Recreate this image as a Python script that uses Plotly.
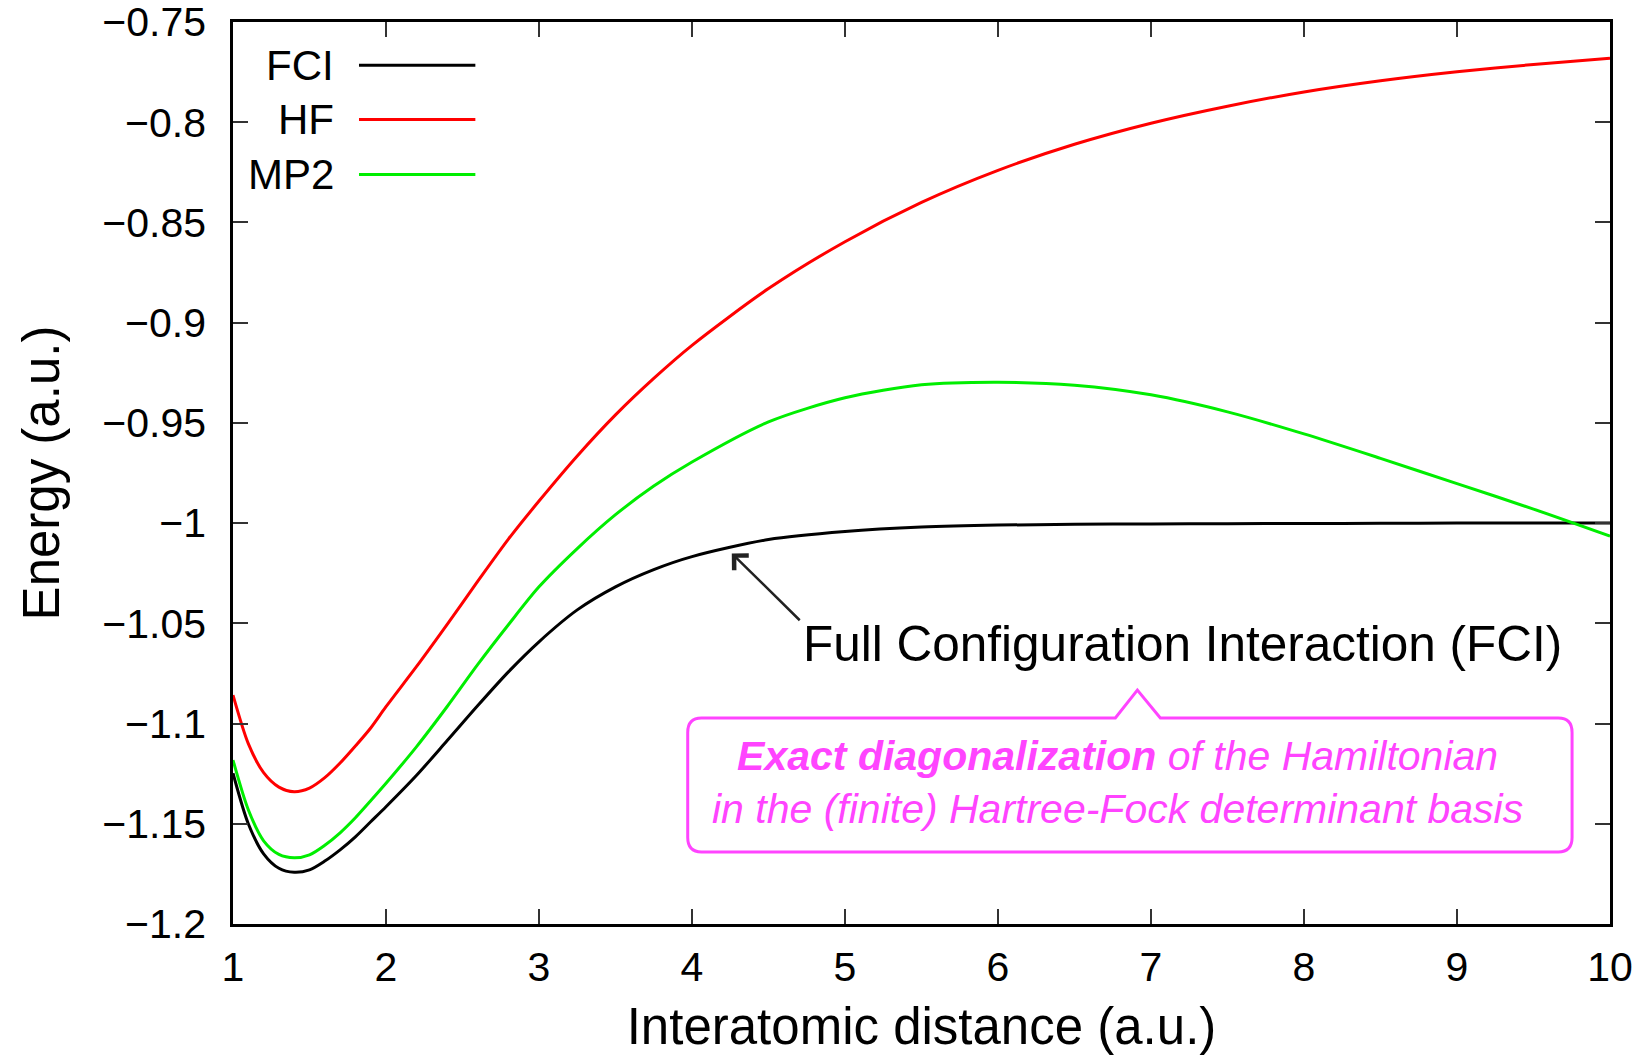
import plotly.graph_objects as go

# ---------------- data ----------------
distance = [1.0, 1.1, 1.2, 1.3, 1.4, 1.5, 1.6, 1.7, 1.8, 1.9, 2.0, 2.2, 2.4, 2.6, 2.8,
            3.0, 3.25, 3.5, 3.75, 4.0, 4.5, 5.0, 5.5, 6.0, 6.5, 7.0, 7.5, 8.0, 8.5,
            9.0, 9.5, 10.0]

fci = [-1.1248, -1.1500, -1.1650, -1.1722, -1.1742, -1.1730, -1.1686, -1.1630, -1.1565,
       -1.1490, -1.1415, -1.1258, -1.1085, -1.0910, -1.0742, -1.0592, -1.0433, -1.0318,
       -1.0232, -1.0167, -1.0082, -1.0042, -1.0020, -1.0010, -1.0006, -1.0004, -1.0003,
       -1.0002, -1.0001, -1.0000, -1.0000, -1.0000]

hf = [-1.0858, -1.1100, -1.1245, -1.1317, -1.1340, -1.1322, -1.1270, -1.1197, -1.1112,
      -1.1022, -1.0916, -1.0715, -1.0505, -1.0290, -1.0080, -0.9890, -0.9665, -0.9460,
      -0.9278, -0.9113, -0.8830, -0.8596, -0.8400, -0.8240, -0.8110, -0.8005, -0.7920,
      -0.7849, -0.7793, -0.7748, -0.7712, -0.7681]

mp2 = [-1.1182, -1.1430, -1.1585, -1.1653, -1.1670, -1.1655, -1.1607, -1.1545, -1.1470,
       -1.1385, -1.1298, -1.1115, -1.0915, -1.0705, -1.0507, -1.0318, -1.0127, -0.9958,
       -0.9815, -0.9695, -0.9495, -0.9375, -0.9310, -0.9297, -0.9312, -0.9360, -0.9445,
       -0.9555, -0.9677, -0.9803, -0.9930, -1.0065]

series_names = ["FCI", "HF", "MP2"]
series_colors = ["#000000", "#ff0000", "#00ee00"]

x_ticks = [1, 2, 3, 4, 5, 6, 7, 8, 9, 10]
x_ticktext = ["1", "2", "3", "4", "5", "6", "7", "8", "9", "10"]
y_ticks = [-1.2, -1.15, -1.1, -1.05, -1.0, -0.95, -0.9, -0.85, -0.8, -0.75]
y_ticktext = ["\u22121.2", "\u22121.15", "\u22121.1", "\u22121.05", "\u22121",
              "\u22120.95", "\u22120.9", "\u22120.85", "\u22120.8", "\u22120.75"]

x_title = "Interatomic distance (a.u.)"
y_title = "Energy (a.u.)"
fci_label = "Full Configuration Interaction (FCI)"
box_text = ("<i><b>Exact diagonalization</b> of the Hamiltonian</i><br>"
            "<i>in the (finite) Hartree-Fock determinant basis</i>")

FONT = "Liberation Sans, Arial, Helvetica, sans-serif"
MAGENTA = "#ff44ff"

fig = go.Figure()
for name, ys, col in zip(series_names, [fci, hf, mp2], series_colors):
    fig.add_trace(go.Scatter(x=distance, y=ys, mode="lines", name=name,
                             line=dict(color=col, width=3, shape="spline", smoothing=0.8),
                             showlegend=False))

# ------------- gnuplot-style key (text right-aligned, sample to the right) -------------
key_rows_y = [0.952, 0.892, 0.831]   # paper fractions
for name, col, ky in zip(series_names, series_colors, key_rows_y):
    fig.add_annotation(xref="paper", yref="paper", x=0.075, y=ky, text=name,
                       showarrow=False, xanchor="right", yanchor="middle",
                       font=dict(family=FONT, size=42, color="black"))
    fig.add_shape(type="line", xref="paper", yref="paper", x0=0.0915, x1=0.176,
                  y0=ky, y1=ky, line=dict(color=col, width=3))

# ------------- FCI label and arrow -------------
fig.add_annotation(x=7.205, y=-1.0603, text=fci_label, showarrow=False,
                   xanchor="center", yanchor="middle",
                   font=dict(family=FONT, size=49.5, color="black"))
fig.add_annotation(x=4.26, y=-1.0151, ax=4.714, ay=-1.0492, axref="x", ayref="y",
                   text="", showarrow=True, arrowhead=4, arrowsize=1.6,
                   arrowwidth=2.5, arrowcolor="#222222", standoff=0)

# ------------- magenta callout box -------------
L, R, T, B = 3.972, 9.752, -1.0972, -1.1641
rx, ry = 0.09, 0.0072
nl, na, nr, ny = 6.767, 6.911, 7.061, -1.0833
path = (f"M {L+rx},{T} L {nl},{T} L {na},{ny} L {nr},{T} L {R-rx},{T} "
        f"Q {R},{T} {R},{T-ry} L {R},{B+ry} Q {R},{B} {R-rx},{B} "
        f"L {L+rx},{B} Q {L},{B} {L},{B+ry} L {L},{T-ry} Q {L},{T} {L+rx},{T} Z")
fig.add_shape(type="path", xref="x", yref="y", path=path,
              line=dict(color=MAGENTA, width=3), fillcolor="rgba(0,0,0,0)")
fig.add_annotation(x=6.78, y=-1.1292, text=box_text, showarrow=False,
                   xanchor="center", yanchor="middle", align="center",
                   font=dict(family=FONT, size=41, color=MAGENTA))

axis_common = dict(showline=True, linecolor="black", linewidth=2.5, mirror="allticks",
                   ticks="inside", ticklen=15, tickwidth=1.5, tickcolor="#333333",
                   showgrid=False, zeroline=False, automargin=False,
                   ticklabeloverflow="allow",
                   tickfont=dict(family=FONT, size=41, color="black"))

fig.update_layout(
    width=1648, height=1058,
    margin=dict(l=233, r=38, t=22, b=134),
    paper_bgcolor="white", plot_bgcolor="white",
    font=dict(family=FONT, color="black"),
    xaxis=dict(range=[1, 10], tickmode="array", tickvals=x_ticks, ticktext=x_ticktext,
               title=dict(text=x_title, font=dict(family=FONT, size=51), standoff=20),
               ticklabelstandoff=5, **axis_common),
    yaxis=dict(range=[-1.2, -0.75], tickmode="array", tickvals=y_ticks, ticktext=y_ticktext,
               title=dict(text=y_title, font=dict(family=FONT, size=51), standoff=27),
               ticklabelstandoff=16, **axis_common),
)

fig.write_html("out.html", config={"displayModeBar": False},
               post_script="document.body.style.margin='0';")
